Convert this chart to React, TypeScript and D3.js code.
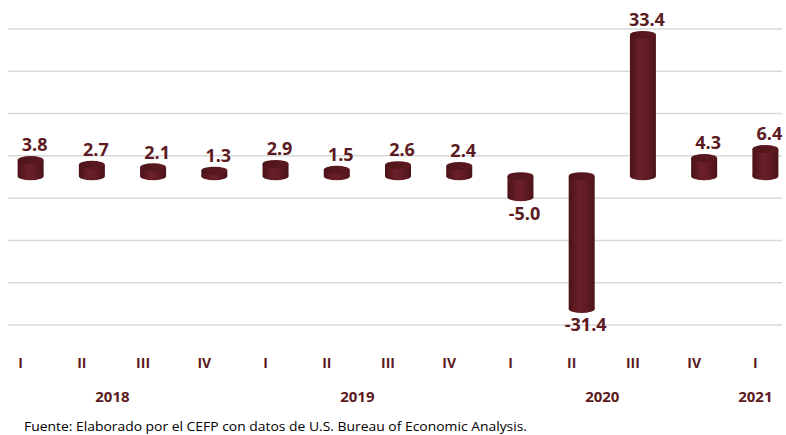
import React, { useMemo } from 'react';
import * as d3 from 'd3';

const quarters = ['I', 'II', 'III', 'IV', 'I', 'II', 'III', 'IV', 'I', 'II', 'III', 'IV', 'I'];
const values = [3.8, 2.7, 2.1, 1.3, 2.9, 1.5, 2.6, 2.4, -5.0, -31.4, 33.4, 4.3, 6.4];
const years = ['2018', '2019', '2020', '2021'];
// first and last quarter index of each year
const yearSpans: [number, number][] = [[0, 3], [4, 7], [8, 11], [12, 12]];
const gridTicks = [40, 30, 20, 10, 0, -10, -20, -30];
const source = 'Fuente: Elaborado por el CEFP con datos de U.S. Bureau of Economic Analysis.';

const W = 786;
const H = 435;
const MAROON = '#5c1a22';
const FONT = '"Open Sans", "DejaVu Sans", sans-serif';

const App: React.FC = () => {
  const depth = 22; // 3d offset of the bars in front of the back wall
  const barW = 26;
  const capRy = 4;

  const x = useMemo(
    () => d3.scalePoint<number>().domain(d3.range(values.length)).range([0, 796]).padding(0.5),
    []
  );
  const y = useMemo(() => d3.scaleLinear().domain([-30, 40]).range([325, 29]), []);
  const yBar = (v: number) => y(v) - depth;

  return (
    <svg width={W} height={H} style={{ position: 'absolute', left: 0, top: 0, background: '#fff' }}>
      <defs>
        <linearGradient id="body" x1="0" x2="1" y1="0" y2="0">
          <stop offset="0%" stopColor="#4a1217" />
          <stop offset="40%" stopColor="#6b2028" />
          <stop offset="60%" stopColor="#661d25" />
          <stop offset="100%" stopColor="#4b1318" />
        </linearGradient>
        <linearGradient id="cap" x1="0" x2="1" y1="0" y2="0">
          <stop offset="0%" stopColor="#4e151a" />
          <stop offset="100%" stopColor="#5e1a20" />
        </linearGradient>
      </defs>

      {gridTicks.map(t => (
        <line key={t} x1={8} x2={782} y1={y(t)} y2={y(t)} stroke="#d9d9d9" strokeWidth={1.5} />
      ))}

      {values.map((v, i) => {
        const cx = x(i)!;
        const top = Math.min(yBar(0), yBar(v));
        const bottom = Math.max(yBar(0), yBar(v));
        return (
          <g key={i}>
            <ellipse cx={cx} cy={bottom} rx={barW / 2} ry={capRy} fill="url(#body)" />
            <rect x={cx - barW / 2} y={top} width={barW} height={bottom - top} fill="url(#body)" />
            <ellipse cx={cx} cy={top} rx={barW / 2} ry={capRy} fill="url(#cap)" />
            <text
              x={cx + 4}
              y={v >= 0 ? top - 15 : bottom + 16}
              dy="0.35em"
              textAnchor="middle"
              fontFamily={FONT}
              fontWeight={700}
              fontSize={18}
              fill={MAROON}
            >
              {v.toFixed(1)}
            </text>
          </g>
        );
      })}

      {quarters.map((q, i) => (
        <text
          key={i}
          x={x(i)! - 10}
          y={363}
          dy="0.35em"
          textAnchor="middle"
          fontFamily={FONT}
          fontWeight={700}
          fontSize={14}
          fill={MAROON}
        >
          {q}
        </text>
      ))}

      {years.map((yr, k) => {
        const [a, b] = yearSpans[k];
        const cx = (x(a)! + x(b)!) / 2 - 10;
        return (
          <text
            key={yr}
            x={cx}
            y={397}
            dy="0.35em"
            textAnchor="middle"
            fontFamily={FONT}
            fontWeight={700}
            fontSize={15}
            fill={MAROON}
          >
            {yr}
          </text>
        );
      })}

      <text
        x={24}
        y={427}
        dy="0.32em"
        fontFamily={FONT}
        fontSize={12.5}
        fill="#000"
        textLength={503}
        lengthAdjust="spacingAndGlyphs"
      >
        {source}
      </text>
    </svg>
  );
};

export default App;
